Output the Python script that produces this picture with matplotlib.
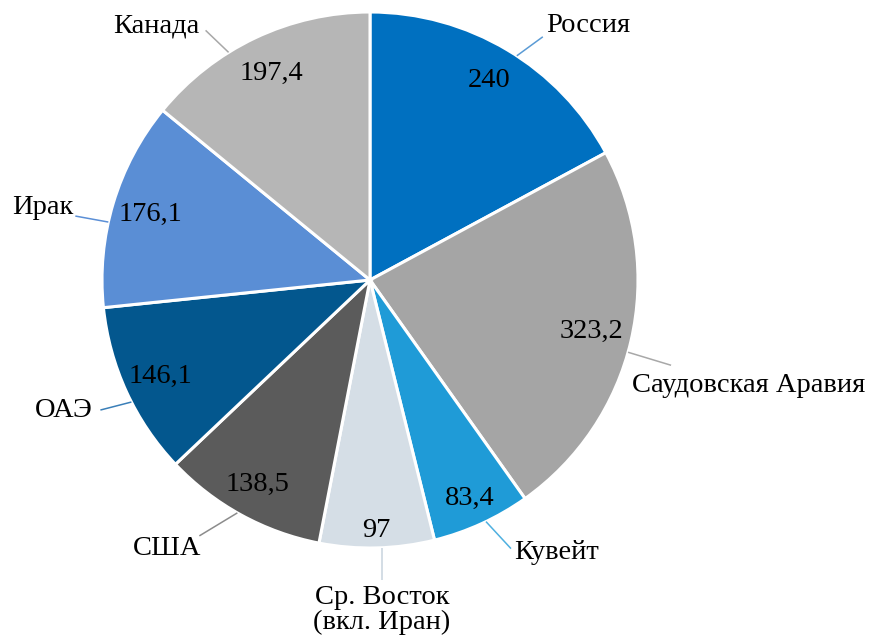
import numpy as np
import matplotlib
matplotlib.use("Agg")
import matplotlib.pyplot as plt

categories = ["Россия", "Саудовская Аравия", "Кувейт", "Ср. Восток\n(вкл. Иран)",
              "США", "ОАЭ", "Ирак", "Канада"]
values = [240, 323.2, 83.4, 97, 138.5, 146.1, 176.1, 197.4]
value_labels = ["240", "323,2", "83,4", "97", "138,5", "146,1", "176,1", "197,4"]

colors = ["#0070C0", "#A5A5A5", "#1F9BD7", "#D5DEE6",
          "#5B5B5B", "#03578E", "#5A8ED5", "#B6B6B6"]
leader_colors = ["#5B9BD5", "#A8A8A8", "#4FB0E0", "#C8D3DE",
                 "#8C8C8C", "#3A7FB8", "#5B8FD6", "#A8A8A8"]

W, H = 869, 641
fig = plt.figure(figsize=(W / 100, H / 100), dpi=100)
ax = fig.add_axes([0, 0, 1, 1])

cx, cy_img, R = 370, 280, 268
cy = H - cy_img
FONT = ["Liberation Serif", "DejaVu Serif"]
FS = 20.5

wedges, _ = ax.pie(values, colors=colors, startangle=90, counterclock=False,
                   center=(cx, cy), radius=R, frame=True,
                   wedgeprops=dict(edgecolor="white", linewidth=2.2))
ax.set_xlim(0, W)
ax.set_ylim(0, H)
ax.set_aspect("equal")
ax.axis("off")

# value label radial distances (fraction of radius)
val_dist = [0.865, 0.85, 0.895, 0.935, 0.87, 0.86, 0.855, 0.855]
# leader line: angle shift (deg) of start point, offset (px, image coords) to end
lead_shift = [-2.4, -2.5, 1.0, 1.1, -0.9, 2.4, 4.2, 6.5]
lead_off = [(26, -19), (43, 13), (25, 27), (0, 32), (-38, 23), (-31, 8), (-33, -6), (-23, -22)]
# text position relative to end of leader (px, image coords) and alignment
txt_off = [(3, -11), (-39, 20), (3, 4), (0, 30), (2, 13), (-8, 0), (-2, -9), (-6, -4)]
txt_ha = ["left", "left", "left", "center", "right", "right", "right", "right"]

for i, w in enumerate(wedges):
    mid = np.deg2rad((w.theta1 + w.theta2) / 2)
    d = val_dist[i] * R
    ax.text(cx + d * np.cos(mid), cy + d * np.sin(mid), value_labels[i],
            ha="center", va="center", fontsize=FS, family=FONT, color="black")

    a = mid + np.deg2rad(lead_shift[i])
    x0 = cx + R * np.cos(a)
    y0 = cy + R * np.sin(a)
    x1 = x0 + lead_off[i][0]
    y1 = y0 - lead_off[i][1]
    ax.plot([x0, x1], [y0, y1], color=leader_colors[i], lw=1.1, solid_capstyle="butt")
    ax.text(x1 + txt_off[i][0], y1 - txt_off[i][1], categories[i],
            ha=txt_ha[i], va="center", fontsize=FS, family=FONT, color="black",
            linespacing=1.0)

fig.savefig("out.png", dpi=100, facecolor="white")
